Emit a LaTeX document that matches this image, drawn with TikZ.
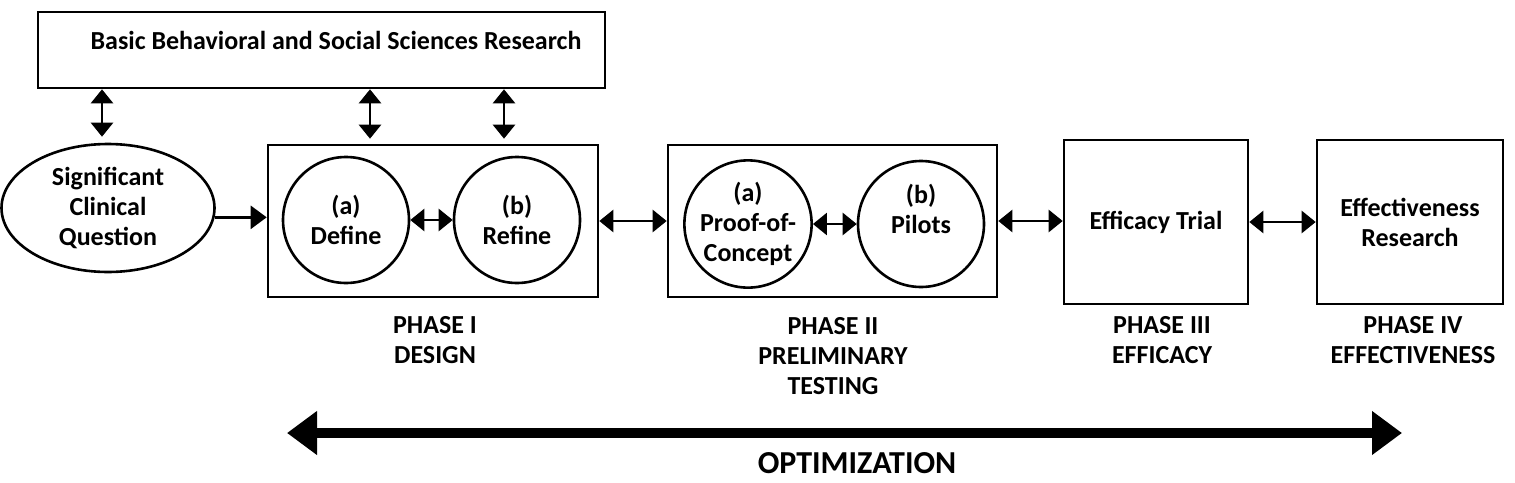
\documentclass[tikz,border=0pt]{standalone}
\usepackage{fontspec}
\setmainfont{Carlito}
\usetikzlibrary{arrows.meta,shapes.geometric}
\begin{document}
\begin{tikzpicture}[x=1pt,y=-1pt,line width=2.6pt,
  font=\bfseries\fontsize{26}{30}\selectfont,
  box/.style={draw,rectangle,inner sep=0pt,align=center},
  circ/.style={draw,circle,minimum size=126pt,inner sep=0pt,align=center},
  dbl/.style={arrows={Triangle[length=14pt,width=22pt]-Triangle[length=14pt,width=22pt]}},
  one/.style={arrows={-Triangle[length=16pt,width=23pt]}},
  lbl/.style={align=center},
  big/.style={line width=10pt,arrows={Triangle[length=30pt,width=42pt]-Triangle[length=30pt,width=42pt]}}]
\useasboundingbox (0,0) rectangle (1515,482);
% top box
\node[box,minimum width=567pt,minimum height=76pt] (bbsr) at (321.5,50) {};
\node (bbsrt) at (336,40) {Basic Behavioral and Social Sciences Research};
% ellipse
\node[draw,ellipse,minimum width=213pt,minimum height=128pt,inner sep=0pt,align=center] (sig) at (108,208) {Significant\\Clinical\\Question};
% phase I
\node[box,minimum width=330pt,minimum height=152pt] (p1) at (433,221) {};
\node[circ] (def) at (346,220) {(a)\\Define};
\node[circ] (ref) at (517,220) {(b)\\Refine};
% phase II
\node[box,minimum width=329pt,minimum height=152pt] (p2) at (832.5,221) {};
\node[circ] (poc) at (748,224) {(a)\\Proof-of-\\Concept};
\node[circ] (pil) at (921,224) {(b)\\Pilots\\\mbox{}};
% phase III, IV
\node[box,minimum width=184pt,minimum height=164pt] (p3) at (1156,222) {Efficacy Trial};
\node[box,minimum width=186pt,minimum height=164pt] (p4) at (1410,222) {Effectiveness\\Research};
% labels
\node[lbl] (l1) at (435,340) {PHASE I\\DESIGN};
\node[lbl] (l2) at (833,356) {PHASE II\\PRELIMINARY\\TESTING};
\node[lbl] (l3) at (1162,340) {PHASE III\\EFFICACY};
\node[lbl] (l4) at (1413,340) {PHASE IV\\EFFECTIVENESS};
% vertical arrows
\coordinate (v1) at (102,0);
\coordinate (v2) at (370,0);
\coordinate (v3) at (504,0);
\coordinate (s1) at ([yshift=6pt]sig.north);
\coordinate (s2) at ([yshift=5pt]p1.north);
\draw[dbl] (bbsr.south -| v1) -- (s1 -| v1);
\draw[dbl] (bbsr.south -| v2) -- (s2 -| v2);
\draw[dbl] (bbsr.south -| v3) -- (s2 -| v3);
% horizontal arrows
\draw[one] (sig.-5) -- (sig.-5 -| p1.west);
\draw[dbl] (def.east) -- (ref.west);
\draw[dbl] (p1.east) -- (p2.west);
\draw[dbl] (poc.east) -- (pil.west);
\draw[dbl] (p2.east) -- (p2.east -| p3.west);
\draw[dbl] (p3.east) -- (p4.west);
% optimization
\coordinate (optl) at (287,433);
\coordinate (optr) at (1402,433);
\draw[big] (optl) -- (optr);
\node[font=\bfseries\fontsize{32}{34}\selectfont] (opt) at (857,463) {OPTIMIZATION};
\end{tikzpicture}
\end{document}
